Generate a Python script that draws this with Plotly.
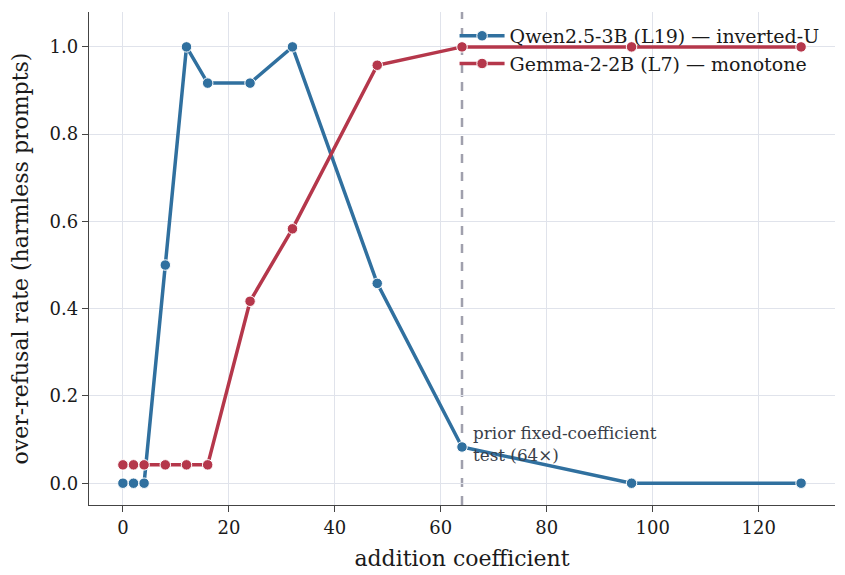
import plotly.graph_objects as go

coef = [0, 2, 4, 8, 12, 16, 24, 32, 48, 64, 96, 128]
qwen = [0.0, 0.0, 0.0, 0.5, 1.0, 0.917, 0.917, 1.0, 0.458, 0.083, 0.0, 0.0]
gemma = [0.042, 0.042, 0.042, 0.042, 0.042, 0.042, 0.417, 0.583, 0.958, 1.0, 1.0, 1.0]
names = ["Qwen2.5-3B (L19) — inverted-U", "Gemma-2-2B (L7) — monotone"]
prior_coef = 64

blue = "#30709f"
red = "#b5374b"
font = "DejaVu Serif"

fig = go.Figure()
for y, name, col in [(qwen, names[0], blue), (gemma, names[1], red)]:
    fig.add_trace(go.Scatter(
        x=coef, y=y, name=name, mode="lines+markers",
        line=dict(color=col, width=3.5),
        marker=dict(size=10.5, color=col, line=dict(color="white", width=1)),
    ))

fig.add_vline(x=prior_coef, line=dict(color="#a0a0ad", width=2.5, dash="dash"), layer="below")
fig.add_annotation(
    x=prior_coef + 1.7, y=qwen[coef.index(prior_coef)] + 0.007,
    text="prior fixed-coefficient<br>test (64×)", showarrow=False,
    xanchor="left", yanchor="middle", align="left",
    font=dict(family=font, size=16.8, color="#3a3f4a"),
)

# page body has an 8px margin, so the figure is 8px smaller than the window
fig.update_layout(
    width=837, height=567,
    margin=dict(l=81, r=10, t=4, b=70),
    paper_bgcolor="white", plot_bgcolor="white",
    font=dict(family=font, size=17, color="#1a1a1a"),
    showlegend=True,
    legend=dict(x=0.986, y=0.99, xanchor="right", yanchor="top", itemwidth=45,
                bgcolor="rgba(0,0,0,0)", font=dict(size=19), tracegroupgap=0),
)
fig.update_xaxes(
    range=[-6.4, 134.4], tickvals=[0, 20, 40, 60, 80, 100, 120],
    title=dict(text="addition coefficient", font=dict(size=22), standoff=13),
    showline=True, linecolor="#444", linewidth=1.3, ticks="outside",
    tickcolor="#444", ticklen=6, tickwidth=1.3, automargin=False,
    showgrid=True, gridcolor="#e0e3eb", gridwidth=1, zeroline=False,
    tickfont=dict(size=18),
)
fig.update_yaxes(
    range=[-0.05, 1.08], tickvals=[0, 0.2, 0.4, 0.6, 0.8, 1.0], tickformat=".1f",
    title=dict(text="over-refusal rate (harmless prompts)", font=dict(size=22), standoff=15),
    showline=True, linecolor="#444", linewidth=1.3, ticks="outside",
    tickcolor="#444", ticklen=6, tickwidth=1.3, automargin=False,
    showgrid=True, gridcolor="#e0e3eb", gridwidth=1, zeroline=False,
    tickfont=dict(size=18),
)

fig.write_html("out.html")
